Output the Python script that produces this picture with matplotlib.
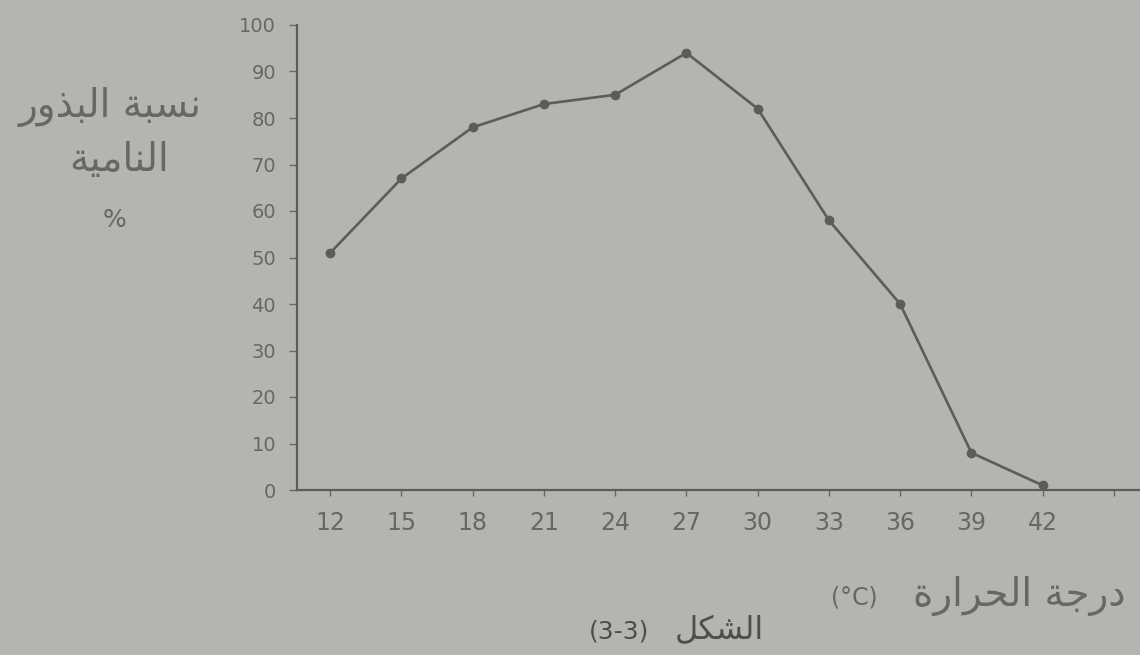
import matplotlib
matplotlib.use("Agg")
import matplotlib.pyplot as plt

# germination percentage vs temperature
temps = [12, 15, 18, 21, 24, 27, 30, 33, 36, 39, 42]
germination = [51, 67, 78, 83, 85, 94, 82, 58, 40, 8, 1]
x_ticks = temps + [45]
x_tick_labels = [str(t) for t in temps] + [""]
y_ticks = list(range(0, 101, 10))

bg = "#b4b5b0"
ink = "#676865"
line_col = "#5c5d5b"

# minimal arabic shaping: (isolated, final, initial, medial)
FORMS = {
    "ا": ("\uFE8D", "\uFE8E", None, None),
    "ب": ("\uFE8F", "\uFE90", "\uFE91", "\uFE92"),
    "ة": ("\uFE93", "\uFE94", None, None),
    "ت": ("\uFE95", "\uFE96", "\uFE97", "\uFE98"),
    "ج": ("\uFE9D", "\uFE9E", "\uFE9F", "\uFEA0"),
    "ح": ("\uFEA1", "\uFEA2", "\uFEA3", "\uFEA4"),
    "د": ("\uFEA9", "\uFEAA", None, None),
    "ذ": ("\uFEAB", "\uFEAC", None, None),
    "ر": ("\uFEAD", "\uFEAE", None, None),
    "س": ("\uFEB1", "\uFEB2", "\uFEB3", "\uFEB4"),
    "ش": ("\uFEB5", "\uFEB6", "\uFEB7", "\uFEB8"),
    "ك": ("\uFED9", "\uFEDA", "\uFEDB", "\uFEDC"),
    "ل": ("\uFEDD", "\uFEDE", "\uFEDF", "\uFEE0"),
    "م": ("\uFEE1", "\uFEE2", "\uFEE3", "\uFEE4"),
    "ن": ("\uFEE5", "\uFEE6", "\uFEE7", "\uFEE8"),
    "و": ("\uFEED", "\uFEEE", None, None),
    "ي": ("\uFEF1", "\uFEF2", "\uFEF3", "\uFEF4"),
}


def ar(text):
    out = []
    for i, ch in enumerate(text):
        if ch not in FORMS:
            out.append(ch)
            continue
        iso, fin, ini, med = FORMS[ch]
        prev = text[i - 1] if i > 0 else None
        nxt = text[i + 1] if i < len(text) - 1 else None
        join_prev = prev in FORMS and FORMS[prev][2] is not None
        join_next = nxt in FORMS and ini is not None
        if join_prev and join_next:
            out.append(med)
        elif join_prev:
            out.append(fin)
        elif join_next:
            out.append(ini)
        else:
            out.append(iso)
    return "".join(out)[::-1]


plt.rcParams["font.family"] = ["DejaVu Sans"]

W, H = 1140, 655
fig = plt.figure(figsize=(W / 100, H / 100), dpi=100, facecolor=bg)
ax = fig.add_axes([297 / W, 165 / H, (W - 297) / W, (490 - 25) / H], facecolor=bg)

ax.plot(temps, germination, color=line_col, lw=1.9, marker="o", ms=6,
        mfc=line_col, mec=line_col)

ax.set_xlim(10.6, 46.1)
ax.set_ylim(0, 100)
ax.set_xticks(x_ticks)
ax.set_xticklabels(x_tick_labels)
ax.set_yticks(y_ticks)

for s in ["top", "right"]:
    ax.spines[s].set_visible(False)
for s in ["left", "bottom"]:
    ax.spines[s].set_color(line_col)
    ax.spines[s].set_linewidth(1.6)

ax.tick_params(axis="y", direction="out", length=6, width=1, color=ink,
               labelsize=14, labelcolor=ink, pad=9)
ax.tick_params(axis="x", direction="out", length=4, width=1, color=ink,
               labelsize=17, labelcolor=ink, pad=11)

# y axis title, three lines on the left
fig.text(110 / W, 1 - 107 / H, ar("نسبة البذور"), fontsize=28, color=ink,
         ha="center", va="center")
fig.text(119 / W, 1 - 160 / H, ar("النامية"), fontsize=28, color=ink,
         ha="center", va="center")
fig.text(114 / W, 1 - 220 / H, "%", fontsize=18, color=ink,
         ha="center", va="center")

# x axis title and caption
fig.text(1126 / W, 1 - 596 / H, ar("درجة الحرارة"), fontsize=28,
         color=ink, ha="right", va="center")
fig.text(878 / W, 1 - 597 / H, "(°C)", fontsize=17,
         color=ink, ha="right", va="center")
fig.text(764 / W, 1 - 631 / H, ar("الشكل"), fontsize=23,
         color="#4e4f4d", ha="right", va="center")
fig.text(649 / W, 1 - 632 / H, "(3-3)", fontsize=18,
         color="#4e4f4d", ha="right", va="center")

fig.savefig("out.png", dpi=100, facecolor=bg)
